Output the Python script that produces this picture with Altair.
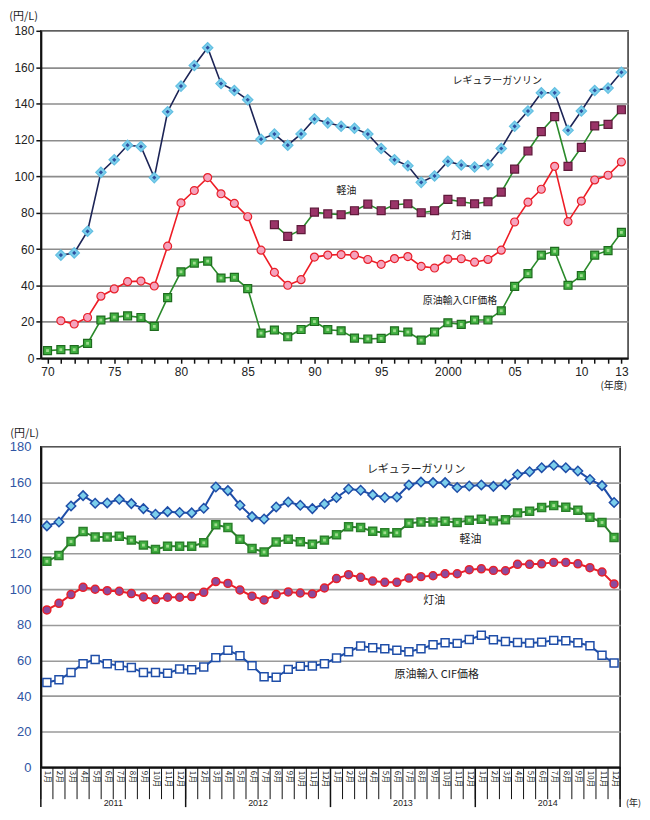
import altair as alt
import pandas as pd

# ---------------- fiscal-year averages (1970-2013) ----------------
years = list(range(1970, 2014))
gasoline_fy = [None, 56.7, 57.9, 69.8, 102.2, 109.1, 117.1, 116.4, 99.3, 135.5,
               149.6, 160.9, 170.7, 151.0, 147.2, 142.1, 120.4, 123.2, 117.1, 123.3,
               131.5, 129.4, 127.5, 126.4, 123.2, 115.3, 109.1, 105.8, 96.7, 100.2,
               108.2, 106.2, 105.1, 106.4, 115.3, 127.5, 135.9, 145.9, 145.9, 125.3,
               135.9, 147.2, 148.5, 157.2]
diesel_fy = [None] * 17 + [73.4, 67.0, 70.7,
             80.3, 79.4, 78.9, 81.1, 84.7, 81.1, 84.4, 84.9, 80.0, 81.1,
             87.3, 86.0, 84.9, 86.0, 91.3, 104.0, 113.9, 124.6, 132.8, 105.5,
             115.9, 127.7, 128.6, 136.6]
kerosene_fy = [None, 20.6, 18.8, 22.4, 34.1, 38.1, 42.1, 42.4, 39.7, 61.6,
               85.4, 92.2, 99.3, 90.4, 85.1, 77.8, 59.4, 47.2, 40.1, 43.2,
               55.6, 56.7, 57.0, 56.7, 54.3, 51.6, 54.8, 55.9, 50.5, 49.6,
               54.5, 54.7, 52.8, 54.3, 59.4, 74.9, 85.8, 92.9, 105.5, 75.1,
               86.4, 98.0, 100.6, 107.9]
crude_fy = [4.2, 4.7, 4.7, 8.2, 21.0, 22.6, 23.3, 22.4, 17.5, 33.3,
            47.5, 52.3, 53.4, 44.1, 44.5, 38.3, 13.8, 15.5, 11.8, 15.8,
            20.2, 15.7, 15.1, 11.1, 10.6, 10.9, 15.1, 14.4, 10.0, 14.4,
            19.5, 18.6, 21.0, 21.0, 26.1, 39.5, 46.5, 56.7, 58.8, 40.1,
            45.4, 56.7, 59.2, 69.2]
top_major = [1970, 1975, 1980, 1985, 1990, 1995, 2000, 2005, 2010, 2013]

# ---------------- monthly (2011-2014) ----------------
month_years = ["2011", "2012", "2013", "2014"]
gasoline_m = [135.6, 137.8, 146.8, 152.6, 148.3, 148.5, 150.5, 148.1, 145.3, 142.1, 143.6, 143.1,
              142.9, 145.5, 157.4, 155.4, 147.2, 140.8, 139.5, 146.2, 149.0, 147.2, 145.3, 147.9,
              151.5, 156.3, 155.6, 153.0, 151.5, 151.8, 158.6, 160.2, 159.9, 159.9, 157.1, 158.0,
              158.6, 157.8, 158.9, 164.5, 166.0, 168.3, 169.6, 168.3, 166.4, 161.7, 158.2, 148.7]
diesel_m = [115.7, 119.0, 126.8, 132.4, 129.3, 129.3, 129.8, 127.6, 124.8, 122.4, 124.2, 124.2,
            124.2, 126.1, 136.2, 134.7, 128.1, 122.9, 120.9, 126.5, 128.1, 126.7, 125.3, 127.6,
            130.6, 135.1, 134.7, 132.6, 131.7, 131.7, 137.1, 137.8, 137.8, 138.2, 137.5, 138.8,
            139.3, 138.4, 139.0, 142.9, 143.8, 145.9, 147.0, 146.1, 144.4, 140.5, 137.5, 129.1]
kerosene_m = [88.4, 92.1, 97.0, 101.1, 100.0, 99.2, 98.9, 97.6, 95.7, 94.2, 95.5, 95.5,
              95.9, 98.3, 104.3, 103.3, 99.6, 96.1, 94.0, 97.0, 98.5, 97.9, 97.4, 100.7,
              106.0, 108.2, 106.7, 104.6, 103.9, 103.9, 106.3, 107.1, 107.6, 108.7, 108.7, 111.0,
              111.5, 110.6, 110.4, 114.0, 114.0, 114.3, 115.1, 115.1, 114.3, 112.1, 109.7, 103.0]
crude_m = [47.6, 49.2, 53.2, 58.2, 60.6, 58.2, 57.1, 56.0, 53.2, 53.2, 52.8, 55.2,
           54.8, 56.3, 61.6, 65.7, 62.7, 57.1, 50.9, 50.6, 55.0, 56.7, 56.9, 58.2,
           61.4, 64.9, 68.1, 67.2, 66.6, 65.7, 64.9, 66.6, 68.8, 70.0, 69.6, 71.8,
           74.2, 71.6, 70.7, 70.1, 69.8, 70.3, 71.3, 71.1, 70.0, 68.3, 62.9, 58.6]

# series name labels (anchored in data coordinates)
top_labels = ["レギュラーガソリン", "軽油", "灯油", "原油輸入CIF価格"]
top_label_x = [2003.7, 1992.4, 2001.0, 2000.9]
top_label_y = [152.3, 92.2, 67.0, 31.5]
bot_labels = ["レギュラーガソリン", "軽油", "灯油", "原油輸入 CIF価格"]
bot_label_x = [30.6, 35.1, 32.1, 32.3]
bot_label_y = [166.9, 127.8, 93.5, 51.6]

JP = "Noto Sans CJK JP"
NUM = "Liberation Sans"

TOP_W, TOP_H = 590, 329
BOT_W, BOT_H = 582, 322

# ================= TOP PANEL =================
def fy_df(vals):
    return pd.DataFrame({"year": years, "v": vals}).dropna()

top_x = alt.X("year:Q",
              scale=alt.Scale(domain=[1969.5, 2013.5], nice=False, zero=False),
              axis=alt.Axis(values=years, title=None, grid=False,
                            labelExpr="indexof(%s, datum.value) >= 0 ? (datum.value == 2000 ? '2000' : slice('' + datum.value, 2)) : ''" % str(top_major),
                            labelFont=NUM, labelFontSize=12, labelColor="#222",
                            labelFlush=False, labelOverlap=False, labelPadding=3,
                            tickSize=5, tickColor="#111", tickWidth=1.5,
                            domainColor="#111", domainWidth=2))
top_y = alt.Y("v:Q",
              scale=alt.Scale(domain=[0, 180], nice=False),
              axis=alt.Axis(values=list(range(0, 181, 20)), title=None,
                            labelFont=NUM, labelFontSize=12, labelColor="#222",
                            labelOverlap=False, labelFlush=False,
                            labelPadding=2, tickSize=5, tickColor="#111", tickWidth=1.5,
                            domainColor="#111", domainWidth=2,
                            grid=True, gridColor="#8c8c8c", gridWidth=1.6))

def top_series(vals, line_color, shape, size, fill, stroke, inner=None):
    d = fy_df(vals)
    base = alt.Chart(d).encode(x=top_x, y=top_y)
    layers = [base.mark_line(color=line_color, strokeWidth=1.6),
              base.mark_point(shape=shape, size=size, filled=True, fill=fill,
                              stroke=stroke, strokeWidth=1.2, opacity=1)]
    if inner is not None:
        layers.append(base.mark_point(shape=shape, size=inner[1], filled=True,
                                      fill=inner[0], strokeWidth=0, opacity=1))
    return layers

top_layers = []
top_layers += top_series(crude_fy, "#2a8a2a", "square", 64, "#3fae3f", "#1e6b1e", ("#9fdc8f", 8))
top_layers += top_series(kerosene_fy, "#ee1c25", "circle", 64, "#f5a3bd", "#e8202a")
top_layers += top_series(diesel_fy, "#2a8a2a", "square", 64, "#9a3468", "#5e1a3a")
top_layers += top_series(gasoline_fy, "#1c2456", "diamond", 110, "#7ccfec", "#63bfe2", ("#2d4f9e", 18))

top_lab = alt.Chart(pd.DataFrame({"year": top_label_x, "v": top_label_y, "t": top_labels})).mark_text(
    font=JP, fontSize=10, color="#222").encode(x=top_x, y=top_y, text="t:N")
top_unit = alt.Chart(pd.DataFrame({"t": ["(円/L)"]})).mark_text(
    font=JP, fontSize=11, color="#222", align="right", baseline="middle").encode(
    x=alt.value(-3), y=alt.value(-14), text="t:N")
top_fy = alt.Chart(pd.DataFrame({"t": ["(年度)"]})).mark_text(
    font=JP, fontSize=10, color="#222", align="right", baseline="middle").encode(
    x=alt.value(TOP_W - 1), y=alt.value(TOP_H + 28), text="t:N")

top = alt.layer(*top_layers, top_lab, top_unit, top_fy).properties(
    width=TOP_W, height=TOP_H,
    view=alt.ViewBackground(stroke="#333", strokeWidth=1.5))

# ================= BOTTOM PANEL =================
idx = list(range(48))

def m_df(vals):
    return pd.DataFrame({"i": idx, "v": vals})

bot_x = alt.X("i:Q",
              scale=alt.Scale(domain=[-0.5, 47.5], nice=False, zero=False),
              axis=alt.Axis(values=idx, title=None, grid=False,
                            labelExpr="(datum.value % 12 + 1) + '月'",
                            labelFont=JP, labelFontSize=8, labelColor="#222",
                            labelAngle=90, labelAlign="left", labelBaseline="middle",
                            labelFlush=False, labelOverlap=False, labelPadding=3,
                            tickSize=0, domainColor="#111", domainWidth=2))
bot_y = alt.Y("v:Q",
              scale=alt.Scale(domain=[0, 180], nice=False),
              axis=alt.Axis(values=list(range(0, 181, 20)), title=None,
                            labelFont=NUM, labelFontSize=13, labelColor="#2f55a4",
                            labelOverlap=False, labelFlush=False,
                            labelPadding=10, tickSize=0,
                            domainColor="#111", domainWidth=2,
                            grid=True, gridColor="#9a9a9a", gridWidth=1.6))

def bot_series(vals, line_color, shape, size, fill, stroke, inner=None):
    d = m_df(vals)
    base = alt.Chart(d).encode(x=bot_x, y=bot_y)
    layers = [base.mark_line(color=line_color, strokeWidth=2),
              base.mark_point(shape=shape, size=size, filled=True, fill=fill,
                              stroke=stroke, strokeWidth=1.5, opacity=1)]
    if inner is not None:
        layers.append(base.mark_point(shape=shape, size=inner[1], filled=True,
                                      fill=inner[0], strokeWidth=0, opacity=1))
    return layers

bot_layers = []
bot_layers += bot_series(crude_m, "#1f4ea8", "square", 64, "#ffffff", "#1f4ea8")
bot_layers += bot_series(kerosene_m, "#e8202a", "circle", 64, "#8e4a9c", "#e8202a")
bot_layers += bot_series(diesel_m, "#2a7f2a", "square", 64, "#3fae3f", "#2a7f2a", ("#9fdc8f", 8))
bot_layers += bot_series(gasoline_m, "#1f4ea8", "diamond", 90, "#7ccfec", "#1f4ea8")

month_bounds = pd.DataFrame({"i": [k - 0.5 for k in range(49)]})
year_bounds = pd.DataFrame({"i": [-0.5, 11.5, 23.5, 35.5, 47.5]})
year_centers = pd.DataFrame({"i": [5.5, 17.5, 29.5, 41.5], "t": month_years})

sep_m = alt.Chart(month_bounds).mark_rule(color="#111", strokeWidth=1).encode(
    x=bot_x, y=alt.value(BOT_H), y2=alt.value(BOT_H + 32))
sep_y = alt.Chart(year_bounds).mark_rule(color="#111", strokeWidth=1.5).encode(
    x=bot_x, y=alt.value(BOT_H), y2=alt.value(BOT_H + 40))
yr_lab = alt.Chart(year_centers).mark_text(font=NUM, fontSize=9, color="#222").encode(
    x=bot_x, y=alt.value(BOT_H + 36), text="t:N")

bot_lab = alt.Chart(pd.DataFrame({"i": bot_label_x, "v": bot_label_y, "t": bot_labels})).mark_text(
    font=JP, fontSize=11, color="#222").encode(x=bot_x, y=bot_y, text="t:N")
bot_unit = alt.Chart(pd.DataFrame({"t": ["(円/L)"]})).mark_text(
    font=JP, fontSize=11, color="#222", align="right", baseline="middle").encode(
    x=alt.value(-2), y=alt.value(-13), text="t:N")
bot_yr = alt.Chart(pd.DataFrame({"t": ["(年)"]})).mark_text(
    font=JP, fontSize=9, color="#222", align="left", baseline="middle").encode(
    x=alt.value(BOT_W + 6), y=alt.value(BOT_H + 36), text="t:N")

bottom = alt.layer(*bot_layers, sep_m, sep_y, yr_lab, bot_lab, bot_unit, bot_yr).properties(
    width=BOT_W, height=BOT_H,
    view=alt.ViewBackground(stroke="#111", strokeWidth=1.5))

chart = alt.vconcat(top, bottom, spacing=35).properties(
    padding={"left": 0, "top": 0, "right": 0, "bottom": 0}
).configure(font=JP)

chart.save("out.html", embed_options={"renderer": "svg", "actions": False})
